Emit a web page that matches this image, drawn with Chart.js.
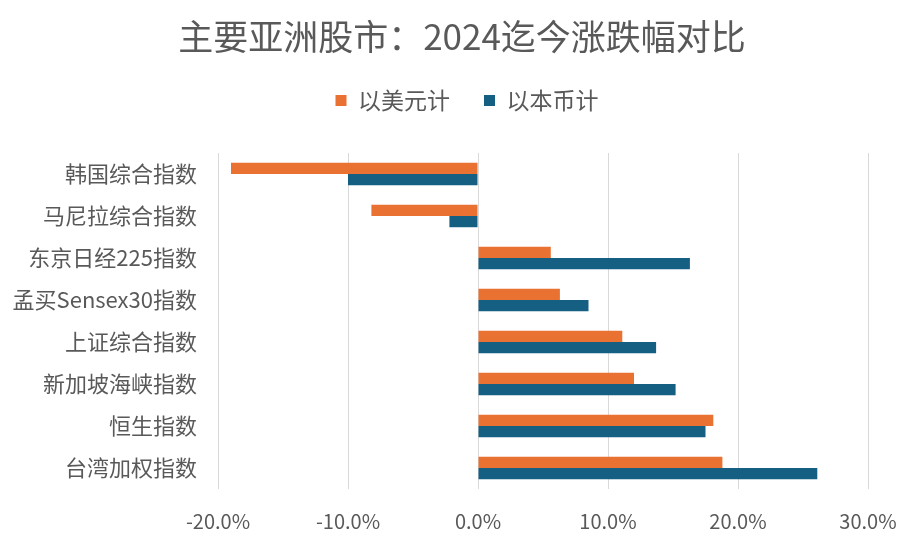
<!DOCTYPE html>
<html><head><meta charset="utf-8">
<script src="https://cdn.jsdelivr.net/npm/chart.js@4"></script>
<style>html,body{margin:0;padding:0;background:#fff}canvas{display:block}</style>
</head><body>
<canvas id="c" width="922" height="546"></canvas>
<script>
const categories = ['韩国综合指数','马尼拉综合指数','东京日经225指数','孟买Sensex30指数','上证综合指数','新加坡海峡指数','恒生指数','台湾加权指数'];
const usdValues = [-19.0, -8.2, 5.6, 6.3, 11.1, 12.0, 18.1, 18.8];
const localValues = [-10.0, -2.2, 16.3, 8.5, 13.7, 15.2, 17.5, 26.1];
const seriesNames = ['以美元计', '以本币计'];
const xMin = -20, xMax = 30, xStep = 10;
const titleText = '主要亚洲股市：2024迄今涨跌幅对比';

const FONT = '"Noto Sans CJK SC", "Noto Sans", sans-serif';
const TEXT = '#595959';

const headerTweak = {
  id: 'headerTweak',
  beforeLayout(chart) {
    const lg = chart.legend;
    if (lg && !lg._patched) {
      const f = lg.fit;
      lg.fit = function () { f.call(this); this.height += 31; };
      lg._patched = true;
    }
  },
  afterLayout(chart) {
    const lg = chart.legend;
    if (lg) { lg.left += 33; lg.right += 33; }
    const t = chart.titleBlock;
    if (t) { t.left += 28; t.right += 28; }
  }
};

new Chart(document.getElementById('c'), {
  type: 'bar',
  data: {
    labels: categories,
    datasets: [
      { label: seriesNames[0], data: usdValues, backgroundColor: '#E97132', borderWidth: 0 },
      { label: seriesNames[1], data: localValues, backgroundColor: '#156082', borderWidth: 0 }
    ]
  },
  options: {
    indexAxis: 'y',
    responsive: false,
    animation: false,
    devicePixelRatio: 1,
    datasets: { bar: { categoryPercentage: 0.535, barPercentage: 1.0 } },
    layout: { padding: { left: 0, right: 54, top: 0, bottom: 0 } },
    plugins: {
      title: {
        display: true, text: titleText, color: TEXT,
        font: { family: FONT, size: 35, weight: 'normal', lineHeight: 1 },
        padding: { top: 19, bottom: 1 }
      },
      legend: {
        display: true, position: 'top', align: 'center',
        labels: {
          color: TEXT, boxWidth: 11, boxHeight: 11, padding: 34,
          font: { family: FONT, size: 23 }
        }
      },
      tooltip: { enabled: false }
    },
    scales: {
      x: {
        min: xMin, max: xMax,
        ticks: {
          stepSize: xStep, color: TEXT, padding: 20,
          font: { family: FONT, size: 20 },
          callback: v => v.toFixed(1) + '%'
        },
        grid: { color: '#D9D9D9', lineWidth: 1, drawTicks: false },
        border: { display: false },
        afterFit: s => { s.height = 57; }
      },
      y: {
        ticks: { color: TEXT, padding: 21, font: { family: FONT, size: 22 } },
        grid: { display: false, drawTicks: false },
        border: { display: false },
        afterFit: s => { s.width = 218; }
      }
    }
  },
  plugins: [headerTweak]
});
</script>
</body></html>
